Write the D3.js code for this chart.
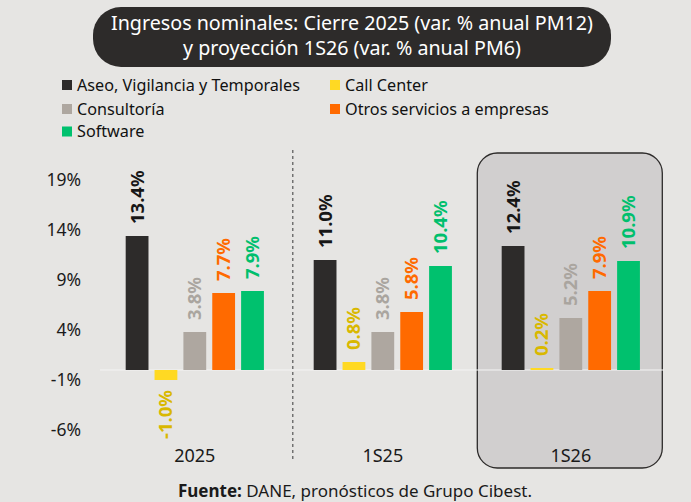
<!DOCTYPE html>
<html><head><meta charset="utf-8">
<script src="https://cdn.jsdelivr.net/npm/d3@7"></script>
<style>
html,body{margin:0;padding:0;background:#e6e5e3;}
svg{display:block;font-family:"Noto Sans",sans-serif;}
</style></head>
<body><svg id="c" width="691" height="502"></svg>
<script>
const categories = ["2025", "1S25", "1S26"];
const seriesNames = ["Aseo, Vigilancia y Temporales", "Call Center", "Consultoría", "Otros servicios a empresas", "Software"];
const aseo = [13.4, 11.0, 12.4];
const callCenter = [-1.0, 0.8, 0.2];
const consultoria = [3.8, 3.8, 5.2];
const otros = [7.7, 5.8, 7.9];
const software = [7.9, 10.4, 10.9];
const yTicks = [19, 14, 9, 4, -1, -6];
const barColors = ["#2d2b2a", "#ffd923", "#aea7a0", "#ff6a00", "#00c16e"];
const labelColors = ["#161616", "#d9b800", "#aaa59f", "#ff6a00", "#00bf6d"];
const titleLines = ["Ingresos nominales: Cierre 2025 (var. % anual PM12)", "y proyección 1S26 (var. % anual PM6)"];

const seriesValues = [aseo, callCenter, consultoria, otros, software];
const svg = d3.select("#c");

// title pill
svg.append("rect").attr("x", 93).attr("y", 7).attr("width", 518).attr("height", 60)
  .attr("rx", 28).attr("fill", "#2d2b2a");
svg.append("text").attr("x", 352).attr("y", 30).attr("text-anchor", "middle")
  .attr("fill", "#fff").attr("font-size", 19.7).text(titleLines[0]);
svg.append("text").attr("x", 352).attr("y", 55).attr("text-anchor", "middle")
  .attr("fill", "#fff").attr("font-size", 19.7).text(titleLines[1]);

// legend
const legPos = [[62, 85], [330, 85], [62, 109], [330, 109], [62, 131.5]];
seriesNames.forEach((n, i) => {
  const [lx, ly] = legPos[i];
  svg.append("rect").attr("x", lx).attr("y", ly - 5).attr("width", 10).attr("height", 10).attr("fill", barColors[i]);
  svg.append("text").attr("x", lx + 15).attr("y", ly).attr("dy", "0.35em")
    .attr("font-size", 16.2).attr("fill", "#111").text(n);
});

// scales
const x0 = d3.scaleBand().domain(categories).range([100.8, 664.8]);
const x1 = d3.scaleBand().domain(d3.range(seriesNames.length)).range([0, 144]).paddingInner(0.21).paddingOuter(0.1);
const y = d3.scaleLinear().domain([-6, 19]).range([430, 180]);

// highlight box for 1S26
const hx = x0("1S26");
svg.append("rect").attr("x", hx + x0.bandwidth()/2 - 93.5).attr("y", 153)
  .attr("width", 185).attr("height", 315).attr("rx", 20)
  .attr("fill", "#d1cfcf").attr("stroke", "#2d2b2a").attr("stroke-width", 1.3);

// dashed separator
const sepX = x0("1S25") + 4;
svg.append("line").attr("x1", sepX).attr("x2", sepX).attr("y1", 150).attr("y2", 462)
  .attr("stroke", "#555").attr("stroke-width", 1.2).attr("stroke-dasharray", "3,3");

// y axis
const yAxis = d3.axisLeft(y).tickValues(yTicks).tickSize(0).tickPadding(0).tickFormat(d => d + "%");
const ga = svg.append("g").attr("transform", "translate(81,0)").call(yAxis);
ga.select(".domain").remove();
ga.selectAll("text").attr("font-size", 17.5).attr("fill", "#1a1a1a").attr("font-family", "Noto Sans, sans-serif");

// zero line
svg.append("line").attr("x1", 100).attr("x2", 664).attr("y1", y(0)).attr("y2", y(0))
  .attr("stroke", "#f4f4f4").attr("stroke-width", 1);

// bars
categories.forEach((c, ci) => {
  const g = svg.append("g").attr("transform", `translate(${x0(c) + x0.bandwidth()/2 - 72},0)`);
  seriesValues.forEach((vals, si) => {
    const v = vals[ci];
    const bx = x1(si);
    g.append("rect").attr("x", bx).attr("width", x1.bandwidth())
      .attr("y", y(Math.max(0, v))).attr("height", Math.abs(y(v) - y(0)))
      .attr("fill", barColors[si]);
    const cx = bx + x1.bandwidth()/2;
    const ty = v >= 0 ? y(v) - 12 : y(v) + 10;
    g.append("text").attr("transform", `translate(${cx},${ty}) rotate(-90)`)
      .attr("text-anchor", v >= 0 ? "start" : "end").attr("dy", "0.35em")
      .attr("font-size", 18.5).attr("font-weight", "bold").attr("fill", labelColors[si])
      .text(v.toFixed(1) + "%");
  });
  svg.append("text").attr("x", x0(c) + x0.bandwidth()/2).attr("y", 456).attr("dy", "0.35em")
    .attr("text-anchor", "middle").attr("font-size", 18).attr("fill", "#1a1a1a").text(c);
});

// source
const src = svg.append("text").attr("x", 355).attr("y", 497)
  .attr("text-anchor", "middle").attr("font-size", 17).attr("fill", "#1a1a1a");
src.append("tspan").attr("font-weight", "bold").text("Fuente:");
src.append("tspan").text(" DANE, pronósticos de Grupo Cibest.");
</script></body></html>
